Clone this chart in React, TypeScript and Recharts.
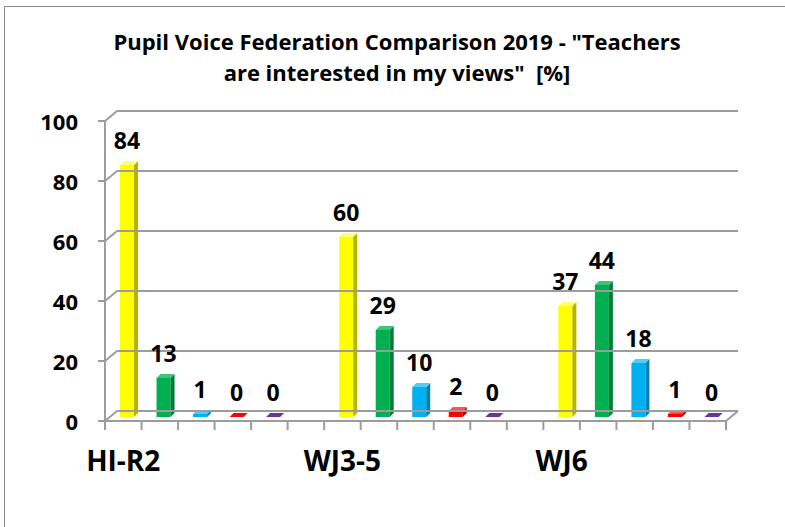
import React from 'react';
import { BarChart, Bar, XAxis, YAxis, LabelList } from 'recharts';

const groups = ['HI-R2', 'WJ3-5', 'WJ6'];
const yellowValues = [84, 60, 37];
const greenValues = [13, 29, 44];
const blueValues = [1, 10, 18];
const redValues = [0, 2, 1];
const purpleValues = [0, 0, 0];
const yTicks = [0, 20, 40, 60, 80, 100];

const seriesValues = [yellowValues, greenValues, blueValues, redValues, purpleValues];
const frontColors = ['#FFFF00', '#00B050', '#00B0F0', '#FF0000', '#7030A0'];
const sideColors = ['#B5B500', '#007D38', '#0082B2', '#B00000', '#4E2170'];
const topColors = ['#FFFF70', '#3CC47A', '#55CCF6', '#FF5050', '#9058BC'];

// one slot per bar, an empty slot between groups
const rows: any[] = [];
groups.forEach((g, gi) => {
  seriesValues.forEach((vals, si) => {
    rows.push({ slot: rows.length, label: si === 0 ? g : '', value: vals[gi], s: si });
  });
  if (gi < groups.length - 1) rows.push({ slot: rows.length, label: '', value: null, s: -1 });
});

const W = 785;
const H = 527;
const PLOT_L = 111;
const PLOT_R = 732;
const PLOT_T = 117;
const PLOT_B = 417;
const SLOT = (PLOT_R - PLOT_L) / rows.length;
const FRONT_DX = -6;
const FRONT_DY = 4;
const BACK_DX = 6;
const BACK_DY = -6;
const GRID = '#9c9c9c';
const FONT = '"Open Sans", Lato, sans-serif';

const YTick = ({ y, payload }: any) => {
  const fy = y + FRONT_DY;
  const by = y + BACK_DY;
  return (
    <g>
      <line x1={PLOT_L + FRONT_DX} y1={fy} x2={PLOT_L + BACK_DX} y2={by} stroke={GRID} strokeWidth={2} />
      <line x1={PLOT_L + BACK_DX} y1={by} x2={PLOT_R + BACK_DX} y2={by} stroke={GRID} strokeWidth={2} />
      <line x1={PLOT_L + FRONT_DX - 7} y1={fy} x2={PLOT_L + FRONT_DX} y2={fy} stroke={GRID} strokeWidth={2} />
      {payload.value === 0 && (
        <g>
          <line x1={PLOT_L + FRONT_DX} y1={PLOT_T + FRONT_DY} x2={PLOT_L + FRONT_DX} y2={fy} stroke={GRID} strokeWidth={2} />
          <line x1={PLOT_L + FRONT_DX} y1={fy} x2={PLOT_R + FRONT_DX} y2={fy} stroke={GRID} strokeWidth={2} />
          <line x1={PLOT_R + FRONT_DX} y1={fy} x2={PLOT_R + BACK_DX} y2={by} stroke={GRID} strokeWidth={2} />
        </g>
      )}
      <text x={78} y={fy} textAnchor="end" dominantBaseline="central" fontFamily={FONT} fontWeight={700} fontSize={22} fill="#000">
        {payload.value}
      </text>
    </g>
  );
};

const XTick = ({ x, payload, index }: any) => {
  const row = rows[index] || {};
  const left = x - SLOT / 2 + FRONT_DX;
  const fy = PLOT_B + FRONT_DY;
  return (
    <g>
      <line x1={left} y1={fy} x2={left} y2={fy + 9} stroke={GRID} strokeWidth={2} />
      {index === rows.length - 1 && (
        <line x1={left + SLOT} y1={fy} x2={left + SLOT} y2={fy + 9} stroke={GRID} strokeWidth={2} />
      )}
      {row.label && (
        <text x={x - 6} y={fy + 50} textAnchor="middle" fontFamily={FONT} fontWeight={700} fontSize={28} fill="#000">
          {row.label}
        </text>
      )}
    </g>
  );
};

const Bar3D = (props: any) => {
  const { x, y, width, height, payload } = props;
  if (payload == null || payload.value == null) return null;
  const s = payload.s;
  const fw = width - 4;
  const d = 4;
  const h = Math.max(height, 0);
  return (
    <g>
      {h > 0 && <rect x={x} y={y} width={fw} height={h} fill={frontColors[s]} />}
      {h > 0 && (
        <polygon points={`${x + fw},${y} ${x + fw + d},${y - d} ${x + fw + d},${y + h - d} ${x + fw},${y + h}`} fill={sideColors[s]} />
      )}
      <polygon points={`${x},${y} ${x + fw},${y} ${x + fw + d},${y - d} ${x + d},${y - d}`} fill={h > 0 ? topColors[s] : frontColors[s]} />
    </g>
  );
};

const BarLabel = ({ x, y, width, value }: any) => {
  if (value == null) return null;
  return (
    <text x={x + width / 2 - 2} y={y - 16} textAnchor="middle" fontFamily={FONT} fontWeight={700} fontSize={23} fill="#000">
      {value}
    </text>
  );
};

export default function App() {
  return (
    <div style={{ position: 'absolute', left: 0, top: 0, width: W, height: H, background: '#fff', overflow: 'hidden' }}>
      <div style={{ position: 'absolute', left: 4, top: 6, width: W, height: H, borderLeft: '1px solid #8a8a8a', borderTop: '1px solid #8a8a8a' }} />
      <div
        style={{
          position: 'absolute',
          left: 0,
          top: 26,
          width: 794,
          textAlign: 'center',
          fontFamily: FONT,
          fontWeight: 700,
          fontSize: 22,
          lineHeight: '31px',
          color: '#000',
        }}
      >
        Pupil Voice Federation Comparison 2019 - "Teachers
        <br />
        are interested in my views"&nbsp;&nbsp;[%]
      </div>
      <div style={{ position: 'absolute', left: 0, top: 0 }}>
        <BarChart
          width={W}
          height={H}
          data={rows}
          margin={{ top: PLOT_T, right: W - PLOT_R, bottom: 50, left: 0 }}
        >
          <XAxis dataKey="slot" type="category" interval={0} axisLine={false} tickLine={false} tick={<XTick />} height={H - PLOT_B - 50} />
          <YAxis domain={[0, 100]} ticks={yTicks} width={PLOT_L} axisLine={false} tickLine={false} tick={<YTick />} interval={0} />
          <Bar dataKey="value" barSize={18} shape={<Bar3D />} isAnimationActive={false}>
            <LabelList dataKey="value" content={<BarLabel />} />
          </Bar>
        </BarChart>
      </div>
    </div>
  );
}
